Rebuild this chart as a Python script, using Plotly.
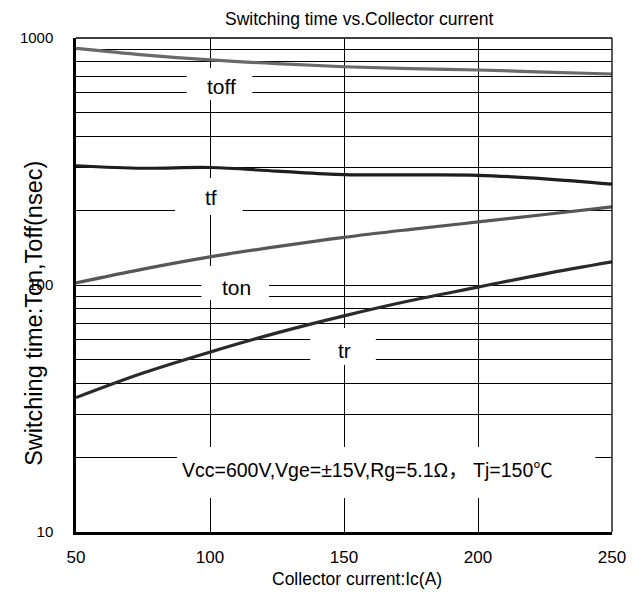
import plotly.graph_objects as go

# ---------------- data ----------------
current_a = [50, 75, 100, 125, 150, 175, 200, 225, 250]
toff_ns = [908, 855, 815, 787, 765, 752, 742, 728, 715]
tf_ns = [304, 297, 299, 289, 280, 279, 278, 269, 256]
ton_ns = [102, 116, 130, 143, 156, 168, 180, 193, 207]
tr_ns = [35, 44, 53.5, 64, 75, 86.5, 98, 111, 124]

x_ticks = [50, 100, 150, 200, 250]
y_ticks = [10, 100, 1000]
y_tick_text = ["10", "100", "1000"]
y_minor = [20, 30, 40, 50, 60, 70, 80, 90, 200, 300, 400, 500, 600, 700, 800, 900]

title_text = "Switching time vs.Collector current"
x_title = "Collector current:Ic(A)"
y_title = "Switching time:Ton,Toff(nsec)"
cond_text = "Vcc=600V,Vge=\u00b115V,Rg=5.1\u03a9\uff0c Tj=150\u2103"

# ---------------- layout geometry (screen pixels) ----------------
OFF = 8  # default page body margin
W, H = 644 - OFF, 595 - OFF
L, R, T, B = 65, 612, 38, 532  # plot area on screen


def px(xp):
    return (xp - L) / (R - L)


def py(yp):
    return (B - yp) / (B - T)


FONT = "Liberation Sans, Arial, Noto Sans CJK SC, sans-serif"

fig = go.Figure()
series = [
    ("toff", toff_ns, "#6a6a6a"),
    ("tf", tf_ns, "#1e1e1e"),
    ("ton", ton_ns, "#575757"),
    ("tr", tr_ns, "#2a2a2a"),
]
for name, vals, col in series:
    fig.add_trace(go.Scatter(
        x=current_a, y=vals, mode="lines", name=name,
        line=dict(color=col, width=3.2, shape="spline", smoothing=1.0),
        showlegend=False, hoverinfo="skip",
    ))

# white boxes that break the grid around labels
boxes = [
    (178, 68, 245, 100),   # toff
    (166, 178, 235, 215),  # tf
    (193, 266, 262, 300),  # ton
    (304, 328, 371, 365),  # tr
    (168, 447, 595, 498),  # conditions
]
shapes = []
for x0, y0, x1, y1 in boxes:
    shapes.append(dict(type="rect", xref="paper", yref="paper",
                       x0=px(x0), x1=px(x1), y0=py(y1), y1=py(y0),
                       fillcolor="white", line=dict(width=0), layer="above"))
# thin top and right borders
shapes.append(dict(type="line", xref="paper", yref="paper", x0=0, x1=1, y0=1, y1=1,
                   line=dict(color="black", width=1.3), layer="above"))
shapes.append(dict(type="line", xref="paper", yref="paper", x0=1, x1=1, y0=0, y1=1,
                   line=dict(color="black", width=1.3), layer="above"))

annotations = []


def add_text(text, xp, yp, size, angle=0, yanchor="middle"):
    annotations.append(dict(text=text, xref="paper", yref="paper", x=px(xp), y=py(yp),
                            xanchor="center", yanchor=yanchor, showarrow=False,
                            textangle=angle, borderpad=0,
                            font=dict(family=FONT, size=size, color="black")))


add_text("toff", 213, 86, 21)
add_text("tf", 203, 198, 21)
add_text("ton", 229, 287, 21)
add_text("tr", 339, 350, 21)
add_text(cond_text, 362, 470, 19.5)
add_text(title_text, 354, 8, 17.5, yanchor="top")
add_text(x_title, 352, 579, 17.5)
add_text(y_title, 22, 313, 23.5, angle=-90)

fig.update_layout(
    width=W, height=H, autosize=False,
    margin=dict(l=L - OFF, r=W - (R - OFF), t=T - OFF, b=H - (B - OFF), pad=0),
    paper_bgcolor="white", plot_bgcolor="white",
    font=dict(family=FONT, color="black"),
    shapes=shapes, annotations=annotations,
    xaxis=dict(range=[50, 250], tickvals=x_ticks, showgrid=True,
               gridcolor="black", gridwidth=1.2, zeroline=False,
               showline=True, linecolor="black", linewidth=2.5,
               ticks="", tickfont=dict(size=17), ticklabelstandoff=8),
    yaxis=dict(type="log", range=[1, 3], tickvals=y_ticks, ticktext=y_tick_text,
               showgrid=True, gridcolor="black", gridwidth=1.2, zeroline=False,
               showline=True, linecolor="black", linewidth=2.5,
               ticks="", tickfont=dict(size=15), ticklabelstandoff=17,
               minor=dict(tickvals=y_minor, showgrid=True, gridcolor="black",
                          gridwidth=1.2, ticks="")),
)

fig.write_html("out.html")
